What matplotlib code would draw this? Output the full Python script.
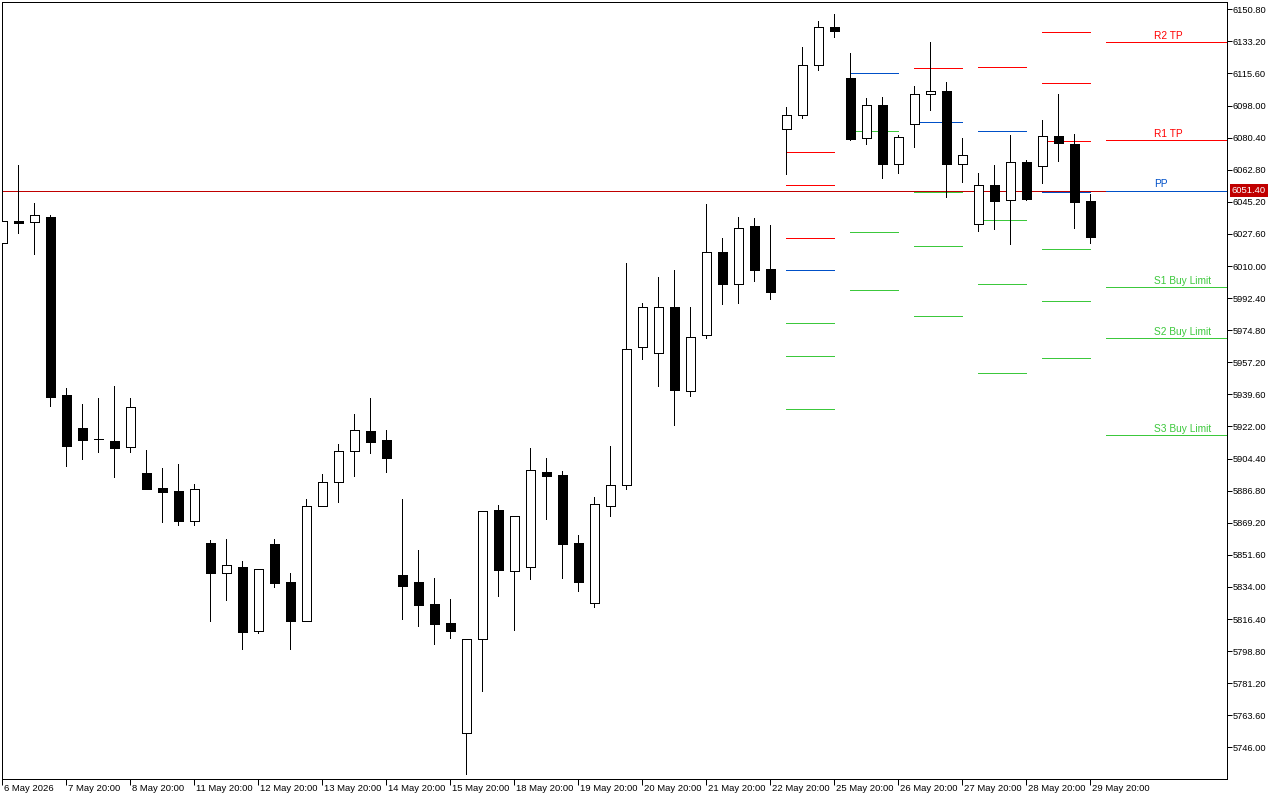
import numpy as np
import matplotlib.pyplot as plt
from matplotlib.patches import Rectangle
from matplotlib.transforms import blended_transform_factory

plt.rcParams["font.family"] = ["Liberation Sans", "DejaVu Sans"]
plt.rcParams["lines.antialiased"] = False
plt.rcParams["patch.antialiased"] = False

# =========================
# CANDLE DATA (H6 bars)
# =========================
opens = [
    6022.5, 6034.7, 6034.0, 6036.9, 5939.3, 5921.2, 5915.0, 5914.0, 5910.6, 5896.5,
    5888.2, 5886.6, 5870.3, 5858.1, 5841.8, 5844.9, 5810.0, 5857.5, 5836.7, 5815.5,
    5878.2, 5891.4, 5908.4, 5919.5, 5914.6, 5840.5, 5836.7, 5824.6, 5814.2, 5753.7,
    5805.3, 5876.2, 5842.7, 5844.7, 5897.0, 5895.4, 5858.1, 5825.3, 5878.2, 5889.7,
    5965.4, 5962.1, 5987.4, 5941.3, 5972.0, 6017.5, 6000.0, 6031.8, 6008.2, 6085.0,
    6092.7, 6120.1, 6141.0, 6113.1, 6080.1, 6098.2, 6066.1, 6087.7, 6104.2, 6106.0,
    6066.1, 6032.9, 6054.3, 6046.1, 6066.9, 6064.7, 6081.2, 6076.9, 6045.5,
]
highs = [
    6035.0, 6065.4, 6044.6, 6038.0, 5943.1, 5934.5, 5937.6, 5944.2, 5937.6, 5909.1,
    5899.2, 5901.4, 5890.4, 5859.7, 5860.3, 5848.2, 5843.8, 5860.3, 5841.6, 5882.2,
    5895.9, 5912.4, 5928.8, 5937.6, 5920.1, 5882.2, 5854.4, 5838.9, 5827.4, 5805.3,
    5875.5, 5878.9, 5872.7, 5910.2, 5904.7, 5897.6, 5862.5, 5883.3, 5911.3, 6011.7,
    5989.7, 6004.0, 6007.8, 5987.4, 6044.0, 6025.2, 6036.7, 6036.2, 6032.5, 6097.2,
    6130.1, 6144.4, 6148.2, 6126.9, 6102.2, 6102.7, 6081.9, 6108.8, 6132.9, 6110.9,
    6080.2, 6061.0, 6065.4, 6081.9, 6068.0, 6090.1, 6104.4, 6082.4, 6049.3,
]
lows = [
    6022.2, 6028.3, 6016.8, 5933.4, 5900.5, 5904.3, 5908.2, 5894.4, 5908.2, 5887.9,
    5869.8, 5868.1, 5868.1, 5815.5, 5827.0, 5800.1, 5808.9, 5834.1, 5800.1, 5815.5,
    5878.2, 5880.7, 5895.0, 5907.6, 5897.2, 5816.6, 5812.7, 5802.8, 5806.1, 5731.5,
    5777.1, 5829.2, 5810.5, 5838.5, 5871.4, 5839.0, 5831.9, 5823.1, 5873.1, 5887.9,
    5959.2, 5944.4, 5923.0, 5938.9, 5970.7, 5989.3, 5989.9, 6002.0, 5992.1, 6060.6,
    6091.4, 6117.7, 6135.8, 6079.3, 6077.1, 6058.5, 6061.2, 6075.5, 6095.8, 6048.0,
    6056.3, 6029.4, 6030.5, 6022.3, 6046.4, 6055.7, 6067.8, 6031.0, 6022.8,
]
closes = [
    6034.7, 6033.8, 6037.8, 5938.3, 5911.5, 5914.7, 5914.9, 5910.4, 5932.5, 5887.9,
    5886.2, 5870.3, 5887.5, 5841.8, 5845.8, 5809.4, 5843.8, 5836.3, 5815.5, 5878.2,
    5891.4, 5908.5, 5920.1, 5913.6, 5904.9, 5834.7, 5824.2, 5813.8, 5810.0, 5805.3,
    5875.5, 5843.4, 5872.7, 5898.0, 5895.0, 5857.7, 5836.9, 5879.3, 5889.7, 5964.3,
    5987.4, 5987.4, 5942.2, 5970.9, 6017.5, 6000.3, 6030.7, 6008.0, 5995.9, 6092.7,
    6120.1, 6141.0, 6139.1, 6079.8, 6098.2, 6066.1, 6080.6, 6104.2, 6105.8, 6066.1,
    6070.7, 6054.3, 6045.8, 6066.9, 6046.9, 6081.2, 6077.7, 6045.3, 6026.1,
]

x_tick_labels = [
    "6 May 2026", "7 May 20:00", "8 May 20:00", "11 May 20:00", "12 May 20:00",
    "13 May 20:00", "14 May 20:00", "15 May 20:00", "18 May 20:00", "19 May 20:00",
    "20 May 20:00", "21 May 20:00", "22 May 20:00", "25 May 20:00", "26 May 20:00",
    "27 May 20:00", "28 May 20:00", "29 May 20:00",
]

# =========================
# DAILY PIVOT LEVELS (past days)
# =========================
pivot_start = [49, 53, 57, 61, 65]
pivot_r3 = [6072.4, None, None, None, 6138.2]
pivot_r2 = [6054.3, None, None, None, 6110.2]
pivot_r1 = [6025.2, None, 6118.5, 6119.0, 6078.4]
pivot_pp = [6007.8, 6115.7, 6088.8, 6083.9, 6050.4]
pivot_s1 = [5978.8, 6083.9, 6050.4, 6035.1, 6019.2]
pivot_s2 = [5960.5, 6028.5, 6020.8, 6000.0, 5990.7]
pivot_s3 = [5931.4, 5996.7, 5982.4, 5951.2, 5959.4]

# current levels
level_names = ["R2 TP", "R1 TP", "PP", "S1 Buy Limit", "S2 Buy Limit", "S3 Buy Limit"]
level_values = [6132.6, 6079.0, 6051.4, 5998.3, 5970.4, 5917.3]

current_price = 6051.40

RED = "#FF0000"
BLUE = "#0050C8"
GREEN = "#3CC83C"
DARKRED = "#C00000"
level_colors = [RED, RED, BLUE, GREEN, GREEN, GREEN]

# =========================
# FIGURE
# =========================
fig = plt.figure(figsize=(12.8, 8), dpi=100)
ax = fig.add_axes([2 / 1280, 20.7 / 800, 1225 / 1280, 777.3 / 800])
ax.set_xlim(-0.02, 76.54)
ax.set_ylim(5728.5, 6154.8)

px = 0.72  # points per pixel at dpi 100

# price line
ax.axhline(current_price, color=DARKRED, lw=1 * px, zorder=1)

# past pivot segments
for k, start in enumerate(pivot_start):
    for vals, col in [(pivot_r3, RED), (pivot_r2, RED), (pivot_r1, RED),
                      (pivot_pp, BLUE), (pivot_s1, GREEN), (pivot_s2, GREEN),
                      (pivot_s3, GREEN)]:
        if vals[k] is not None:
            ax.hlines(vals[k], start, start + 3, color=col, lw=1 * px, zorder=2)

# current levels with labels
for name, val, col in zip(level_names, level_values, level_colors):
    ax.hlines(val, 69, 76.54, color=col, lw=1 * px, zorder=2)
    ax.annotate(name, xy=(72, val), xytext=(0, 3.5 * px), textcoords="offset points",
                ha="left", va="baseline", color=col, fontsize=7.3, zorder=5)

# candles
for i, (o, h, l, c) in enumerate(zip(opens, highs, lows, closes)):
    ax.vlines(i, l, h, color="black", lw=1 * px, zorder=3)
    fill = "white" if c >= o else "black"
    ax.add_patch(Rectangle((i - 0.3, min(o, c)), 0.6, abs(c - o),
                           facecolor=fill, edgecolor="black", lw=1 * px, zorder=4))

# axes styling
for sp in ax.spines.values():
    sp.set_color("black")
    sp.set_linewidth(1 * px)

ax.yaxis.tick_right()
yticks = np.arange(5746.0, 6151.0, 17.6)
ax.set_yticks(yticks)
ax.set_yticklabels([f"{v:.2f}" for v in yticks])
ax.tick_params(axis="y", direction="out", length=4.5 * px, width=1 * px,
               pad=0.5, labelsize=6.7, colors="black")

xticks = list(range(0, 69, 4))
ax.set_xticks(xticks)
ax.set_xticklabels([])
ax.tick_params(axis="x", direction="out", length=5.5 * px, width=1 * px)

trans = blended_transform_factory(ax.transData, ax.transAxes)
for xt, lab in zip(xticks, x_tick_labels):
    ax.annotate(lab, xy=(xt, 0), xycoords=trans, xytext=(1.5 * px, -12 * px),
                textcoords="offset points", ha="left", va="baseline",
                fontsize=6.8, annotation_clip=False)

# current price tag
ytrans = blended_transform_factory(ax.transAxes, ax.transData)
ax.annotate(f"{current_price:.2f}", xy=(1, current_price), xycoords=ytrans,
            xytext=(5 * px, 0), textcoords="offset points", ha="left",
            va="center", color="white", fontsize=6.8, annotation_clip=False,
            bbox=dict(boxstyle="square,pad=0.22", fc=DARKRED, ec="none"), zorder=10)

fig.savefig("out.png", dpi=100, facecolor="white")
